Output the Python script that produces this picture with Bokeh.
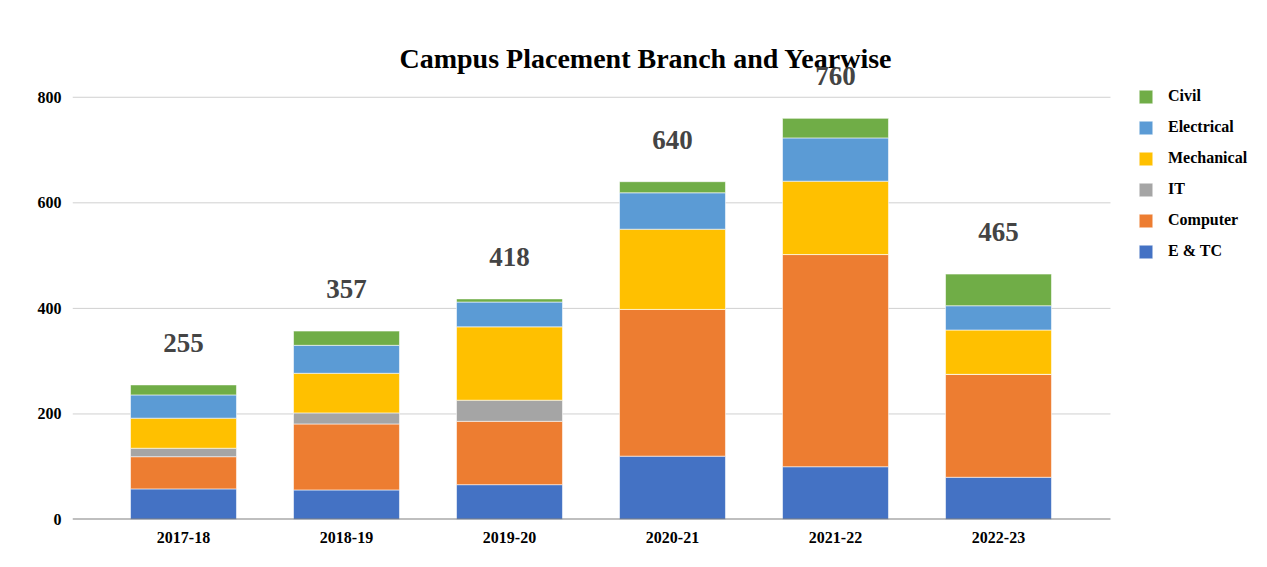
from bokeh.plotting import figure
from bokeh.models import (Range1d, FixedTicker, Legend, LegendItem, ColumnDataSource)
from bokeh.core.properties import value
from bokeh.embed import file_html
from bokeh.resources import INLINE

years = ["2017-18", "2018-19", "2019-20", "2020-21", "2021-22", "2022-23"]
etc = [58, 56, 66, 120, 100, 80]
computer = [61, 125, 120, 278, 402, 195]
it = [16, 21, 40, 0, 0, 0]
mechanical = [57, 75, 139, 152, 139, 84]
electrical = [44, 53, 47, 69, 82, 46]
civil = [19, 27, 6, 21, 37, 60]
series_names = ["E & TC", "Computer", "IT", "Mechanical", "Electrical", "Civil"]
colors = ["#4472C4", "#ED7D31", "#A5A5A5", "#FFC000", "#5B9BD5", "#70AD47"]
y_ticks = [0, 200, 400, 600, 800]

keys = ["etc", "computer", "it", "mechanical", "electrical", "civil"]
xi = list(range(len(years)))
data = dict(xi=xi, etc=etc, computer=computer, it=it,
            mechanical=mechanical, electrical=electrical, civil=civil)
totals = [sum(v) for v in zip(etc, computer, it, mechanical, electrical, civil)]
data["total"] = totals
data["total_label"] = [str(t) for t in totals]
source = ColumnDataSource(data)

FONT = "Liberation Serif"
W, H = 1262, 562
PAD = 0.681                     # category padding on each side of the bar group
x_start = -PAD
x_end = -PAD + (W - 7 - 72) / 163.0
grid_end = len(years) - 1 + 0.687

p = figure(x_range=Range1d(x_start, x_end), y_range=Range1d(0, 845),
           width=W, height=H, output_backend="svg", toolbar_location=None,
           min_border_left=72, min_border_right=7, min_border_bottom=H - 519,
           min_border_top=73)

# horizontal gridlines limited to the plotting area (legend sits to the right)
gsrc = ColumnDataSource(dict(y=y_ticks[1:], x0=[x_start] * 4, x1=[grid_end] * 4))
p.segment(x0="x0", x1="x1", y0="y", y1="y", source=gsrc, line_color="#d0d0d0",
          line_width=1)

renderers = p.vbar_stack(keys, x="xi", width=0.65, color=colors, source=source,
                         line_color="white", line_width=0.8, line_alpha=0.7)

# baseline (x axis line)
p.segment(x0=[x_start], x1=[grid_end], y0=[0], y1=[0], line_color="#808080",
          line_width=2)

p.text(x="xi", y="total", text="total_label", source=source,
       text_font=value(FONT), text_font_style="bold", text_font_size="27px",
       text_color="#444444", text_align="center", text_baseline="middle",
       y_offset=-42, level="overlay")

p.title.text = "Campus Placement Branch and Yearwise"
p.title.text_font = FONT
p.title.text_font_size = "28px"
p.title.text_font_style = "bold"
p.title.text_color = "#000000"
p.title.align = "left"
p.title.offset = 327
p.title.standoff = 0

p.yaxis.ticker = FixedTicker(ticks=y_ticks)
p.yaxis.axis_line_color = None
p.yaxis.major_tick_line_color = None
p.yaxis.minor_tick_line_color = None
p.yaxis.major_label_text_font = FONT
p.yaxis.major_label_text_font_style = "bold"
p.yaxis.major_label_text_font_size = "16px"
p.yaxis.major_label_text_color = "#000000"
p.yaxis.major_label_standoff = 5

p.xaxis.ticker = FixedTicker(ticks=xi)
p.xaxis.major_label_overrides = {i: y for i, y in zip(xi, years)}
p.xaxis.axis_line_color = None
p.xaxis.major_tick_line_color = None
p.xaxis.minor_tick_line_color = None
p.xaxis.major_label_text_font = FONT
p.xaxis.major_label_text_font_style = "bold"
p.xaxis.major_label_text_font_size = "16px"
p.xaxis.major_label_text_color = "#000000"
p.xaxis.major_label_standoff = 6

p.xgrid.grid_line_color = None
p.ygrid.grid_line_color = None
p.outline_line_color = None

items = [LegendItem(label=n, renderers=[r]) for n, r in zip(series_names, renderers)]
legend = Legend(items=list(reversed(items)), location=(1065, 259),
                label_text_font=FONT, label_text_font_style="bold",
                label_text_font_size="16px", label_text_color="#000000",
                glyph_width=17, glyph_height=17, spacing=13, margin=0, padding=10,
                border_line_color=None, background_fill_alpha=0, label_standoff=14)
p.add_layout(legend, "center")

open("out.html", "w").write(file_html(p, INLINE))
